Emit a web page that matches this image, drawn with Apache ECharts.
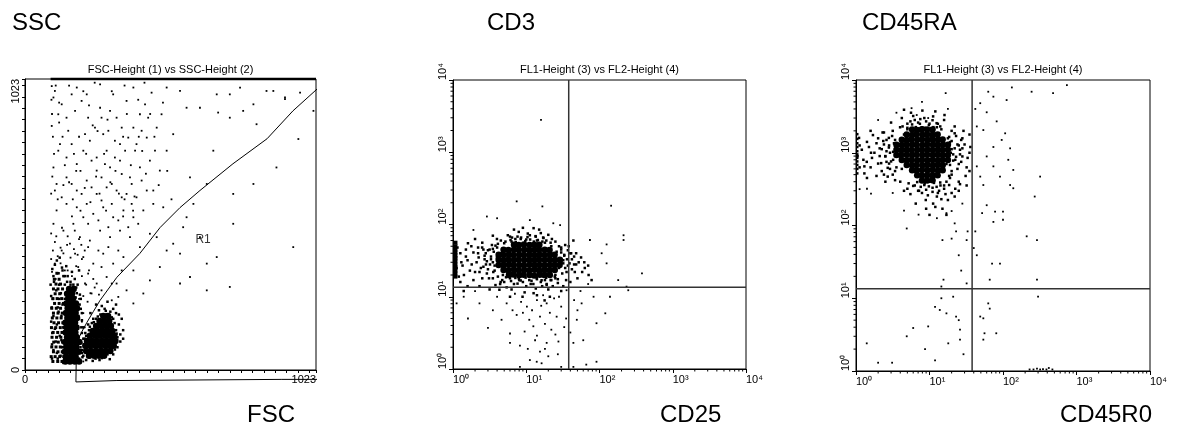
<!DOCTYPE html>
<html><head><meta charset="utf-8">
<script src="https://cdn.jsdelivr.net/npm/echarts@6/dist/echarts.min.js"></script>
<style>html,body{margin:0;padding:0;background:#fff}#c{width:1183px;height:441px}</style>
</head><body><div id="c"></div>
<script>
const FONT = "'Liberation Sans', Arial, sans-serif";
const panelTitles = ['FSC-Height (1) vs SSC-Height (2)', 'FL1-Height (3) vs FL2-Height (4)', 'FL1-Height (3) vs FL2-Height (4)'];
const yNames = ['SSC', 'CD3', 'CD45RA'];
const xNames = ['FSC', 'CD25', 'CD45R0'];
const linLabelled = [0, 1023];
const supDigits = ['\u2070', '\u00b9', '\u00b2', '\u00b3', '\u2074'];
const minorMultipliers = [2, 3, 4, 5, 6, 7, 8, 9];
const decadeStarts = [1, 10, 100, 1000];
const quadX = 38, quadY = 13.5;

// ---------- Panel 1 : FSC vs SSC (linear 0-1023) ----------
const fscSscSaturated = [[90, 1023], [1023, 1023]];
const gateR1 = [[179,-42],[181,95],[200,135],[218,168],[240,205],[264,245],[323,326],[404,410],[475,501],[545,571],[615,631],[731,725],[851,813],[942,911],[1047,1006],[1047,-33],[903,-33],[903,-37],[323,-37],[323,-42],[179,-42]];
const r1Label = [[626, 459]];
const debrisCore = [[142,30],[158,30],[175,30],[190,30],[145,47],[162,47],[178,47],[140,64],[157,64],[173,64],[189,64],[146,81],[163,81],[180,81],[141,98],[158,98],[175,98],[191,98],[148,115],[165,115],[182,115],[143,132],[160,132],[177,132],[147,149],[164,149],[181,149],[142,166],[159,166],[176,166],[149,183],[166,183],[183,183],[144,200],[161,200],[178,200],[150,217],[167,217],[183,217],[146,234],[163,234],[179,234],[152,251],[169,251],[148,268],[165,268],[155,285],[171,285]];
const debrisLeft = [[98,30],[115,30],[130,30],[92,47],[106,47],[122,47],[136,47],[100,64],[116,64],[131,64],[94,81],[109,81],[124,81],[138,81],[101,98],[117,98],[132,98],[95,115],[111,115],[126,115],[99,132],[115,132],[130,132],[93,149],[108,149],[124,149],[137,149],[102,166],[118,166],[133,166],[96,183],[112,183],[127,183],[100,200],[116,200],[131,200],[94,217],[110,217],[125,217],[104,234],[120,234],[135,234],[98,251],[113,251],[129,251],[106,268],[122,268],[100,285],[116,285],[132,285],[109,302],[125,302],[103,319],[120,319],[112,340]];
const debrisMid = [[95,40],[100,70],[108,100],[96,130],[112,160],[100,190],[115,220],[98,250],[110,280],[102,310],[118,340],[105,370],[125,50],[130,80],[122,120],[135,150],[128,190],[132,230],[126,270],[120,300],[135,330],[190,40],[195,80],[185,120],[198,150],[188,190],[192,230],[182,270],[140,300],[130,360],[185,300],[95,90],[115,40],[135,25],[200,60],[205,110],[112,60],[92,170],[94,220],[120,250],[140,250],[90,300],[105,145],[118,205],[128,105],[138,40],[100,330],[112,385],[140,330],[175,320],[190,350],[160,310],[150,330],[170,300],[196,250],[200,200],[92,260],[145,365],[165,345],[180,290],[193,265],[160,300],[148,310],[178,255],[196,215],[200,175],[198,95],[202,45],[132,350],[96,355],[122,395]];
const lymphCore = [[225,50],[243,50],[260,50],[278,50],[215,67],[232,67],[250,67],[268,67],[285,67],[300,67],[212,85],[229,85],[247,85],[264,85],[282,85],[299,85],[312,85],[218,102],[236,102],[253,102],[271,102],[288,102],[305,102],[318,102],[228,120],[246,120],[263,120],[281,120],[298,120],[314,120],[238,137],[255,137],[273,137],[290,137],[307,137],[250,155],[268,155],[285,155],[302,155],[262,172],[280,172],[296,172],[275,190],[292,190]];
const lymphHalo = [[205,50],[210,90],[200,70],[215,120],[225,140],[235,165],[250,180],[265,195],[285,195],[305,185],[315,165],[320,140],[325,115],[318,95],[305,75],[290,55],[270,42],[248,40],[228,45],[330,160],[335,125],[300,205],[280,215],[210,110],[340,180],[310,55],[320,200],[260,210],[200,130],[345,140],[230,200],[250,230],[290,240],[320,230],[215,35],[298,38],[325,80],[335,100],[240,180],[222,160],[270,225],[310,215],[330,195],[345,110],[205,150],[212,130],[228,152],[242,168],[256,188],[310,180],[322,128],[316,72],[262,35],[238,32],[284,208],[298,190]];
const fscSscSparse = [[94,998],[100,958],[117,899],[94,858],[146,887],[164,969],[182,993],[217,969],[264,922],[275,829],[299,911],[322,887],[357,946],[381,852],[404,899],[428,817],[445,975],[463,852],[498,993],[545,981],[568,922],[615,922],[674,969],[720,969],[756,993],[803,934],[849,981],[914,958],[967,975],[1014,911],
[392,794],[334,794],[287,771],[252,747],[228,806],[205,771],[182,724],[146,747],[123,794],[100,712],[111,654],[146,677],[182,631],[217,666],[252,701],[299,712],[334,736],[369,677],[404,712],[439,736],[474,701],[498,771],[521,829],[428,631],[392,607],[357,619],[322,631],[287,642],[252,619],[217,584],[182,572],[146,584],[111,561],[100,514],[135,490],[170,514],[205,537],[240,549],[275,572],[310,537],[346,561],[381,537],[416,561],[451,584],[486,572],[158,444],[193,467],[228,455],[264,490],[299,467],[334,490],[369,467],[404,432],[439,479],[205,397],[240,374],[275,409],[310,374],[346,397],[381,350],[287,327],[322,304],[252,304],[357,280],[381,234],[416,269],[439,315],[474,362],[498,420],[463,467],
[568,537],[521,444],[545,409],[580,327],[639,280],[720,292],[674,397],[732,619],[943,432],[961,812],[914,952],[679,905],[720,887],[662,771],[814,864],[873,981],[580,677],[451,631],[767,911],[615,467],[556,502],[592,584],[639,654],[803,654],[884,712],[732,514],[639,374],[545,304],
[105,981],[129,934],[152,841],[176,911],[199,946],[222,887],[246,852],[269,887],[293,841],[316,806],[340,852],[363,817],[387,771],[410,841],[433,887],[457,771],[480,899],[310,969],[264,1004],[381,993],[422,934],[211,829],[164,794],[117,771],[105,631],[129,607],[164,654],[199,619],[234,642],[269,677],[305,654],[340,689],[375,654],[410,666],[234,736],[281,724],[316,747],[352,771],[269,596],[305,584],[340,607],[375,584],[222,514],[258,526],[293,502],[328,526],[363,502],[398,514],[129,420],[176,409],[222,432],[258,420],[293,432],[328,420],[105,374],[140,350],[187,362],[222,339],[269,362],[305,304],[340,350],[211,304],[234,269],[269,280],[305,245],[328,257],
[92,390],[98,420],[105,450],[115,400],[125,430],[135,410],[148,440],[160,395],[172,425],[185,405],[198,440],[210,420],[95,345],[108,320],[150,350],[165,330],[200,330],[215,300],[225,350],[240,320],[205,260],[220,240],[230,270],[245,290],[260,265],[200,390],[180,365],[125,375],[92,480],[110,470],[130,500],[150,470],[175,490],[190,460],[195,25],[205,30],[200,170],[205,200],[190,250],[210,150],
[92,620],[96,680],[102,760],[98,820],[95,900],[93,950],[108,1000],[120,870],[132,820],[140,720],[155,660],[168,600],[172,760],[190,820],[195,700],[210,640],[225,930],[238,860],[250,680],[262,620],[278,760],[290,880],[305,980],[318,700],[330,620],[345,820],[358,900],[372,720],[385,610],[398,950],[412,770],[425,690],[440,900],[455,820],[470,650],[485,940],[500,700],[515,600],[165,540],[195,560],[230,590],[285,560],[345,540],[380,560],[115,600],[135,650],[180,700],[215,760],[255,840],[300,660],[350,600],[400,820],[120,940],[155,1000],[205,980],[245,1010],[350,1000],[420,1010]];

// ---------- Panel 2 : CD25 (FL1) vs CD3 (FL2), log ----------
const cd3Core = [[5.8,20],[6.7,20.3],[8.0,19.8],[9.2,20.2],[11.1,20],[12.8,19.7],[15.3,20.2],[17.6,20],[21,20],
[4.9,23.4],[5.7,23.2],[6.8,23.6],[7.9,23.3],[9.4,23.5],[11,23.2],[13,23.6],[15,23.3],[17.9,23.5],[20.8,23.2],[24.5,23.4],
[4.2,27.5],[4.9,27.2],[5.8,27.7],[6.7,27.4],[8.0,27.6],[9.3,27.3],[11.1,27.7],[12.9,27.4],[15.2,27.6],[17.7,27.3],[21,27.6],[24.3,27.4],[28.5,27.5],
[4.2,32.4],[4.9,32.1],[5.7,32.6],[6.8,32.3],[7.9,32.5],[9.4,32.2],[11,32.6],[13,32.3],[15,32.5],[17.9,32.2],[20.9,32.6],[24.6,32.3],[28.8,32.4],
[4.2,38],[4.9,37.7],[5.8,38.2],[6.7,37.9],[8.0,38.1],[9.3,37.8],[11.1,38.2],[12.9,37.9],[15.2,38.1],[17.7,37.8],[21,38.2],[24.4,38],
[4.9,44.7],[5.7,44.4],[6.8,44.9],[7.9,44.6],[9.4,44.8],[11,44.5],[13,44.9],[15,44.6],[17.9,44.8],[20.8,44.5],
[6.8,52.5],[7.9,52],[9.3,52.8],[11.1,52.2],[12.9,52.6],[15.1,52.3]];
const cd3Mid = [[1.12,25],[1.26,40],[1.41,20],[1.58,32],[1.78,50],[2,22],[2.24,35],[2.51,18],[2.82,28],[3.16,45],[3.55,22],[3.98,35],[4.47,16],[2,63],[1.26,16],[1.58,14],[2.51,56],[3.98,63],[3.16,12.6],[5.6,71],[7.9,79],[11.2,71],[15.8,76],[22.4,63],[7.1,63],[12.6,89],[28,50],[32,32],[35.5,22],[40,40],[45,28],[50,18],[56,35],[63,25],[40,16],[32,14],[71,20],[5,16],[6.3,12.6],[7.9,18],[10,14],[12.6,11.2],[15.8,16],[20,12.6],[25,18],[8.9,10],[17.8,8.9],[5.6,20],[4.2,26],[4.5,40],[3.5,30],[4,48],[5,55],[6.3,58],[10,62],[14,60],[18,56],[22,50],[26,42],[28,25],[30,30],[25,20],[22,17],[18,17],[14,17.5],[11,17],[8,17],[6,18],[4.8,20],[2.8,40],[3,24],[1.8,28],[1.5,45],[2.2,48],[1.3,30],[1.1,35],
[1.2,19],[1.35,27],[1.5,36],[1.7,23],[1.9,41],[2.1,30],[2.4,25],[2.6,45],[2.9,21],[3.3,33],[3.7,27],[3.4,52],[1.15,48],[1.6,55],[2.7,33],[3.1,18],[1.9,17],[2.3,14],[3.8,14.5],[1.4,12],
[4.3,12.5],[5.4,13.5],[6.8,15],[9,16],[11.5,15],[13.5,13],[16.5,14],[19,15],[23,14],[27,15.5],[30,12],[9.5,11.5],[14,10.5],[6,10],[21,10],[35,17],
[30,45],[33,38],[37,27],[42,33],[46,22],[52,30],[48,40],[58,22],[62,30],[38,50],[70,27],[78,17],[44,60],
[4.5,60],[6,68],[8.5,66],[10.5,75],[13.5,68],[17,66],[20,72],[25,58],[9,90],[15,85],[6.8,85],[3.5,70],
[5.2,58],[6.1,61],[7.2,57],[8.4,63],[9.7,59],[11.3,62],[12.7,58],[14.4,61],[16.6,58],[18.8,60],[21.5,56],[7.6,68],[10.4,67],[13.4,69],[6.4,66],[17.2,65],
[3.5,18],[4.1,19],[4.7,17],[5.3,18.6],[6.2,16.5],[7.1,18.2],[8.4,16.8],[9.8,18.4],[11.8,16.6],[13.9,18.1],[16.2,16.9],[18.7,18.3],[21.5,17],[24.5,19],[27,17.5],[4.4,15],[7.6,15.2],[12.5,15],[19,14.6],
[2.3,22],[2.6,26],[2.9,31],[3.3,36],[3.6,42],[2.5,48],[3.0,44],[3.8,51],[2.2,40],[3.2,28],[3.7,23],[2.7,37],[3.5,46],[4.1,54],
[31,21],[34,25],[32,29],[36,33],[33,37],[30,41],[39,29],[42,24],[45,36],[37,44],[48,28],[41,40],[30,48],[34,52]];
const cd3Edge = [[1.08,19],[1.08,21],[1.08,23],[1.08,25.5],[1.08,28],[1.08,31],[1.08,34],[1.08,37.5],[1.08,41],[1.08,45],[1.08,50],[1.08,56]];
const cd3Sparse = [[3.0,3.7],[6.0,3.1],[8.2,2.1],[12.5,3.9],[13.2,2.5],[15.4,5.3],[19,2.3],[11.2,1.33],[13.9,1.26],[16.2,1.2],[27.5,2.4],[26,5.3],[30,7.3],[19,8.1],[10.2,7.3],[5.4,8.1],[4.0,10],[2.3,8.1],[1.4,10],[1.12,8.1],[49,4.8],[60,2.5],[44,2.3],[91,4.3],[91,1.26],[66,1.15],[8.2,1.07],[30,1.07],[44,1.07],[6.0,2.3],[4.6,4.8],[7.4,5.6],[22,3.5],[15.4,1.74],[35.5,12.3],[57,8.1],[83,10],[120,5.9],[15.9,2800],[7.4,209],[16.6,178],[144,182],[213,71],[213,61],[125,53],[380,21],[180,17],[247,12.3],[125,29],[74,61],[107,40],[29,98],[2.9,129],[1.9,84],[4.0,122],[11.2,115],[23.4,104],[139,10],[234,13.8],[9,6],[18,4.2],[24,9.5],[14,9],[35,5],[7,11],[3.5,6.5],[2,12],[40,3.2],[55,12],[70,15],[1.6,5],[10.5,1.9],[20,1.5],[12,6.5],[16,7.5],[21,6],[25,3],[11,4.8],[8.5,8.5],[6.5,6.5],[17,10.5],[28,10],[45,9],[50,6.5],[33,3.8],[14,2.9],[18,1.9],[27,1.6],[9.5,3.3]];

// ---------- Panel 3 : CD45R0 (FL1) vs CD45RA (FL2), log ----------
const cd45Core = [[5.8,2089],[6.8,2060],[7.9,2100],[9.3,2080],[11,2095],
[4.9,1778],[5.8,1760],[6.7,1790],[8.0,1770],[9.3,1785],[11,1770],[12.9,1780],
[4.2,1514],[4.9,1500],[5.7,1525],[6.8,1510],[7.9,1520],[9.4,1505],[11,1520],[13,1510],[15.1,1515],
[3.55,1288],[4.2,1280],[4.9,1295],[5.8,1285],[6.7,1292],[8.0,1282],[9.3,1294],[11.1,1284],[12.9,1290],[15.2,1286],[17.8,1290],
[3.55,1096],[4.2,1090],[4.9,1100],[5.7,1092],[6.8,1098],[7.9,1090],[9.4,1100],[11,1093],[13,1099],[15,1091],[17.8,1096],
[3.55,933],[4.1,928],[4.9,936],[5.8,930],[6.7,935],[8.0,929],[9.3,936],[11.1,930],[12.9,935],[15.2,929],[17.8,933],
[4.2,794],[4.9,790],[5.7,797],[6.8,791],[7.9,796],[9.4,790],[11,797],[13,791],[15,796],[17.8,792],
[4.9,676],[5.8,672],[6.7,679],[8.0,673],[9.3,678],[11.1,672],[12.9,679],[15.1,674],
[5.8,575],[6.7,572],[7.9,578],[9.4,573],[11,577],[13,572],[15.1,576],
[6.8,490],[7.9,487],[9.3,492],[11,488],[12.9,491],
[7.9,417],[9.3,415],[11,419]];
const cd45Mid = [[1.12,1260],[1.26,800],[1.41,1410],[1.58,630],[1.78,1000],[2.0,1580],[2.24,560],[2.51,890],[2.82,1260],[3.16,500],[3.16,2000],[1.12,630],[1.58,2000],[2.24,1120],[2.51,400],[1.41,450],[2.0,710],[2.82,710],[3.55,1120],[3.55,630],[3.98,2240],[5.0,2510],[6.3,2820],[7.9,2240],[10,2510],[12.6,2240],[15.8,2820],[5.6,3550],[11.2,3160],[20,2000],[4.5,1780],[17.8,1580],[20,1120],[22.4,800],[25,1260],[28,890],[32,630],[35,1000],[20,500],[25,400],[22.4,320],[32,355],[28,1580],[35,1780],[6.3,355],[7.9,280],[10,400],[12.6,250],[15.8,320],[17.8,224],[11.2,200],[5,320],[4,400],[14.1,355],[8.9,224],[20,280],[3.8,900],[4,1300],[18,900],[17,700],[3.4,1500],[4.2,600],
[1.05,900],[1.2,1100],[1.3,650],[1.5,1200],[1.65,850],[1.9,1350],[2.1,900],[2.35,1450],[2.6,1050],[2.9,600],[3.2,800],[3.3,1350],[1.1,1600],[1.7,1750],[2.4,1900],[2.8,1600],[1.3,520],[1.9,480],[2.7,470],[3.4,420],[2.1,1150],[2.6,750],[1.6,1000],[1.4,750],
[3,2600],[4.2,3000],[5,2100],[6,3200],[7,2600],[8.5,3000],[9.5,2150],[11,2800],[13,2500],[14.5,2100],[16,3300],[8,3800],[12,3700],[4.5,3900],
[19,1400],[21,950],[23,1700],[24,600],[26,1100],[27,750],[30,1300],[31,480],[33,850],[36,1200],[29,2000],[22,2300],[19,450],[26,370],[35,560],
[5.5,270],[7,300],[8.5,360],[9.5,260],[11,330],[13,280],[14.5,230],[16.5,270],[18.5,360],[22,250],[12,180],[15,170],[9,170],[6.5,200],[25,300],[4.5,300],[10,140],[17,140],
[4.3,2300],[5.0,2200],[5.8,2450],[6.5,2250],[7.4,2500],[8.6,2200],[9.8,2400],[11.3,2250],[12.5,2550],[14,2300],[5.5,2700],[9,2700],[7.5,2900],
[5.2,380],[6,350],[6.8,395],[7.6,340],[8.6,380],[9.8,345],[11.5,385],[12.5,340],[14,390],[15.8,355],[17,400],[9,310],[11,290],[13.5,300],[7.2,300],
[2.4,500],[2.7,620],[3.0,760],[2.5,900],[3.2,1030],[2.8,1180],[3.3,1350],[2.6,1500],[3.1,1700],[2.3,1900],[3.4,560],[2.2,720],[2.9,1000],[3.5,1250],[2.4,1300],
[18.5,480],[20,560],[19,680],[21,780],[23,880],[19.5,1000],[22,1150],[24,1300],[20,1450],[18.5,1650],[26,950],[25,700],[27,1500],[22,1850],[28,1150]];
const cd45Edge = [[1.04,520],[1.04,600],[1.04,680],[1.04,760],[1.04,850],[1.04,950],[1.04,1050],[1.04,1200],[1.04,1350],[1.04,1550],[1.04,1800]];
const cd45Sparse = [[63,6900],[74,5900],[132,7900],[245,6900],[480,6600],[740,8500],[112,5300],[49,4800],[60,3600],[42,4000],[44,2300],[54,2050],[82,2700],[107,1850],[74,1200],[96,1500],[125,1150],[118,800],[138,580],[60,890],[74,650],[44,650],[49,470],[91,470],[54,360],[125,360],[138,325],[320,470],[270,250],[52,148],[60,190],[78,155],[100,155],[100,120],[74,112],[42,83],[40,49],[44,39],[71,30],[91,30],[210,71],[290,63],[66,18],[290,18],[300,10.5],
[1.4,2.4],[2.0,1.3],[3.1,1.3],[4.9,3.0],[6.0,3.9],[9.6,4.1],[11.9,7.6],[13.8,6.9],[14.5,10],[11.9,1.4],[8.7,2.0],[17,6.2],[21,10.5],[23,5.6],[25,5.0],[26,3.7],[26,2.7],[29,1.7],[18,2.4],[32,16],[27,24],[25,39],[32,63],[33,83],[15.5,18],[14.5,14.5],[20,66],[23,83],[15,63],[4.9,91],[22,107],[17,148],
[49,5.6],[54,5.3],[63,8.5],[66,7.2],[56,3.3],[54,2.7],[81,3.3],
[230,1.05],[260,1.05],[290,1.08],[320,1.05],[350,1.06],[390,1.05],[420,1.1],[470,1.05],
[2,2820],[1.41,320],[3.16,280],[4.5,160],[7.1,141],[12.6,126],[20,158],[28,200],[1.12,316],[3.55,3550],[7.9,5000],[17.8,4000],[16.6,6600],[6.7,3300],[9.6,3000],[5.7,4100],[1.6,275]];

// ---------- build ----------
const grids = [
  {left: 25, top: 79, width: 291, height: 291},
  {left: 453, top: 80, width: 293, height: 289},
  {left: 856, top: 80, width: 294, height: 291}
];
const txt = {fontFamily: FONT, color: '#000'};
const titles = [];
const bigPos = [[12, 11], [487, 11], [862, 11]];
const bigPosX = [[247, 403], [660, 403], [1060, 403]];
yNames.forEach((t, i) => titles.push({text: t, left: bigPos[i][0], top: bigPos[i][1], padding: 0, textStyle: {...txt, fontSize: 24, fontWeight: 'normal'}}));
xNames.forEach((t, i) => titles.push({text: t, left: bigPosX[i][0], top: bigPosX[i][1], padding: 0, textStyle: {...txt, fontSize: 24, fontWeight: 'normal'}}));
panelTitles.forEach((t, i) => titles.push({text: t, left: grids[i].left + grids[i].width / 2, top: 64, textAlign: 'center', padding: 0, textStyle: {...txt, fontSize: 11, fontWeight: 'normal'}}));

const logLabel = v => '10' + supDigits[Math.round(Math.log10(v))];
const linLabel = v => linLabelled.includes(v) ? String(v) : '';

function linAxis(gi, isY) {
  return {type: 'value', gridIndex: gi, min: 0, max: 1023, interval: 40,
    axisLine: {show: true, lineStyle: {color: '#000', width: 1}},
    axisTick: {show: true, inside: false, length: 3, lineStyle: {color: '#000'}},
    splitLine: {show: false},
    axisLabel: Object.assign({show: true, interval: 0, showMaxLabel: true, showMinLabel: true, formatter: linLabel, fontSize: 11, fontFamily: FONT, color: '#000', margin: 4, alignMaxLabel: 'right'},
      isY ? {rotate: 90, align: 'center', verticalAlign: 'bottom'} : {align: 'center'})};
}
function logAxis(gi, isY) {
  return {type: 'log', logBase: 10, gridIndex: gi, min: 1, max: 10000,
    axisLine: {show: true, lineStyle: {color: '#000', width: 1}},
    axisTick: {show: true, inside: false, length: 4, lineStyle: {color: '#000'}},
    splitLine: {show: false}, minorTick: {show: false},
    axisLabel: Object.assign({show: true, interval: 0, formatter: logLabel, fontSize: 11, fontFamily: FONT, color: '#000', margin: 5},
      isY ? {rotate: 90, align: 'left', verticalAlign: 'bottom'} : {align: 'left'})};
}
const xAxes = [linAxis(0, false), logAxis(1, false), logAxis(2, false)];
const yAxes = [linAxis(0, true), logAxis(1, true), logAxis(2, true)];

function dots(gi, data, size, symbol) {
  return {type: 'scatter', xAxisIndex: gi, yAxisIndex: gi, data, symbol: symbol || 'rect', symbolSize: size,
    itemStyle: {color: '#000', opacity: 1}, clip: false, silent: true, large: false};
}
function line(gi, data, width, color) {
  return {type: 'line', xAxisIndex: gi, yAxisIndex: gi, data, symbol: 'none', clip: false, silent: true,
    lineStyle: {color: color || '#000', width}};
}
function minorTicks(gi, axis) {
  const data = [];
  decadeStarts.forEach(d => minorMultipliers.forEach(m => data.push(axis === 'x' ? [d * m, 1] : [1, d * m])));
  return {type: 'custom', xAxisIndex: gi, yAxisIndex: gi, data, silent: true, clip: false,
    renderItem: (p, api) => {
      const pt = api.coord([api.value(0), api.value(1)]);
      const s = axis === 'x' ? {x1: pt[0], y1: pt[1], x2: pt[0], y2: pt[1] + 2.5} : {x1: pt[0], y1: pt[1], x2: pt[0] - 2.5, y2: pt[1]};
      return {type: 'line', shape: s, style: {stroke: '#000', lineWidth: 1}};
    }};
}

const series = [
  dots(0, fscSscSparse, 1.8),
  dots(0, debrisMid, 2.5),
  dots(0, debrisLeft, 3),
  dots(0, debrisCore, 6.5, 'circle'),
  dots(0, lymphHalo, 2.5),
  dots(0, lymphCore, 6.5, 'circle'),
  line(0, fscSscSaturated, 2.5),
  line(0, gateR1, 1),
  {type: 'scatter', xAxisIndex: 0, yAxisIndex: 0, data: r1Label, symbolSize: 0, silent: true,
    label: {show: true, position: 'inside', formatter: 'R1', fontSize: 12, fontFamily: FONT, color: '#000'}},
  dots(1, cd3Sparse, 1.8),
  dots(1, cd3Mid, 2.5),
  dots(1, cd3Core, 6.5, 'circle'),
  dots(1, cd3Edge, 4),
  line(1, [[quadX, 1], [quadX, 10000]], 1.5, '#333'),
  line(1, [[1, quadY], [10000, quadY]], 1.5, '#333'),
  minorTicks(1, 'x'), minorTicks(1, 'y'),
  dots(2, cd45Sparse, 1.8),
  dots(2, cd45Mid, 2.5),
  dots(2, cd45Core, 6.5, 'circle'),
  dots(2, cd45Edge, 2.5),
  line(2, [[quadX, 1], [quadX, 10000]], 1.5, '#333'),
  line(2, [[1, quadY], [10000, quadY]], 1.5, '#333'),
  minorTicks(2, 'x'), minorTicks(2, 'y')
];

const chart = echarts.init(document.getElementById('c'), null, {renderer: 'canvas'});
chart.setOption({
  animation: false, backgroundColor: '#fff',
  title: titles,
  grid: grids.map(g => Object.assign({show: true, borderColor: '#000', borderWidth: 1, backgroundColor: 'transparent', containLabel: false}, g)),
  xAxis: xAxes, yAxis: yAxes, series
});
</script></body></html>
